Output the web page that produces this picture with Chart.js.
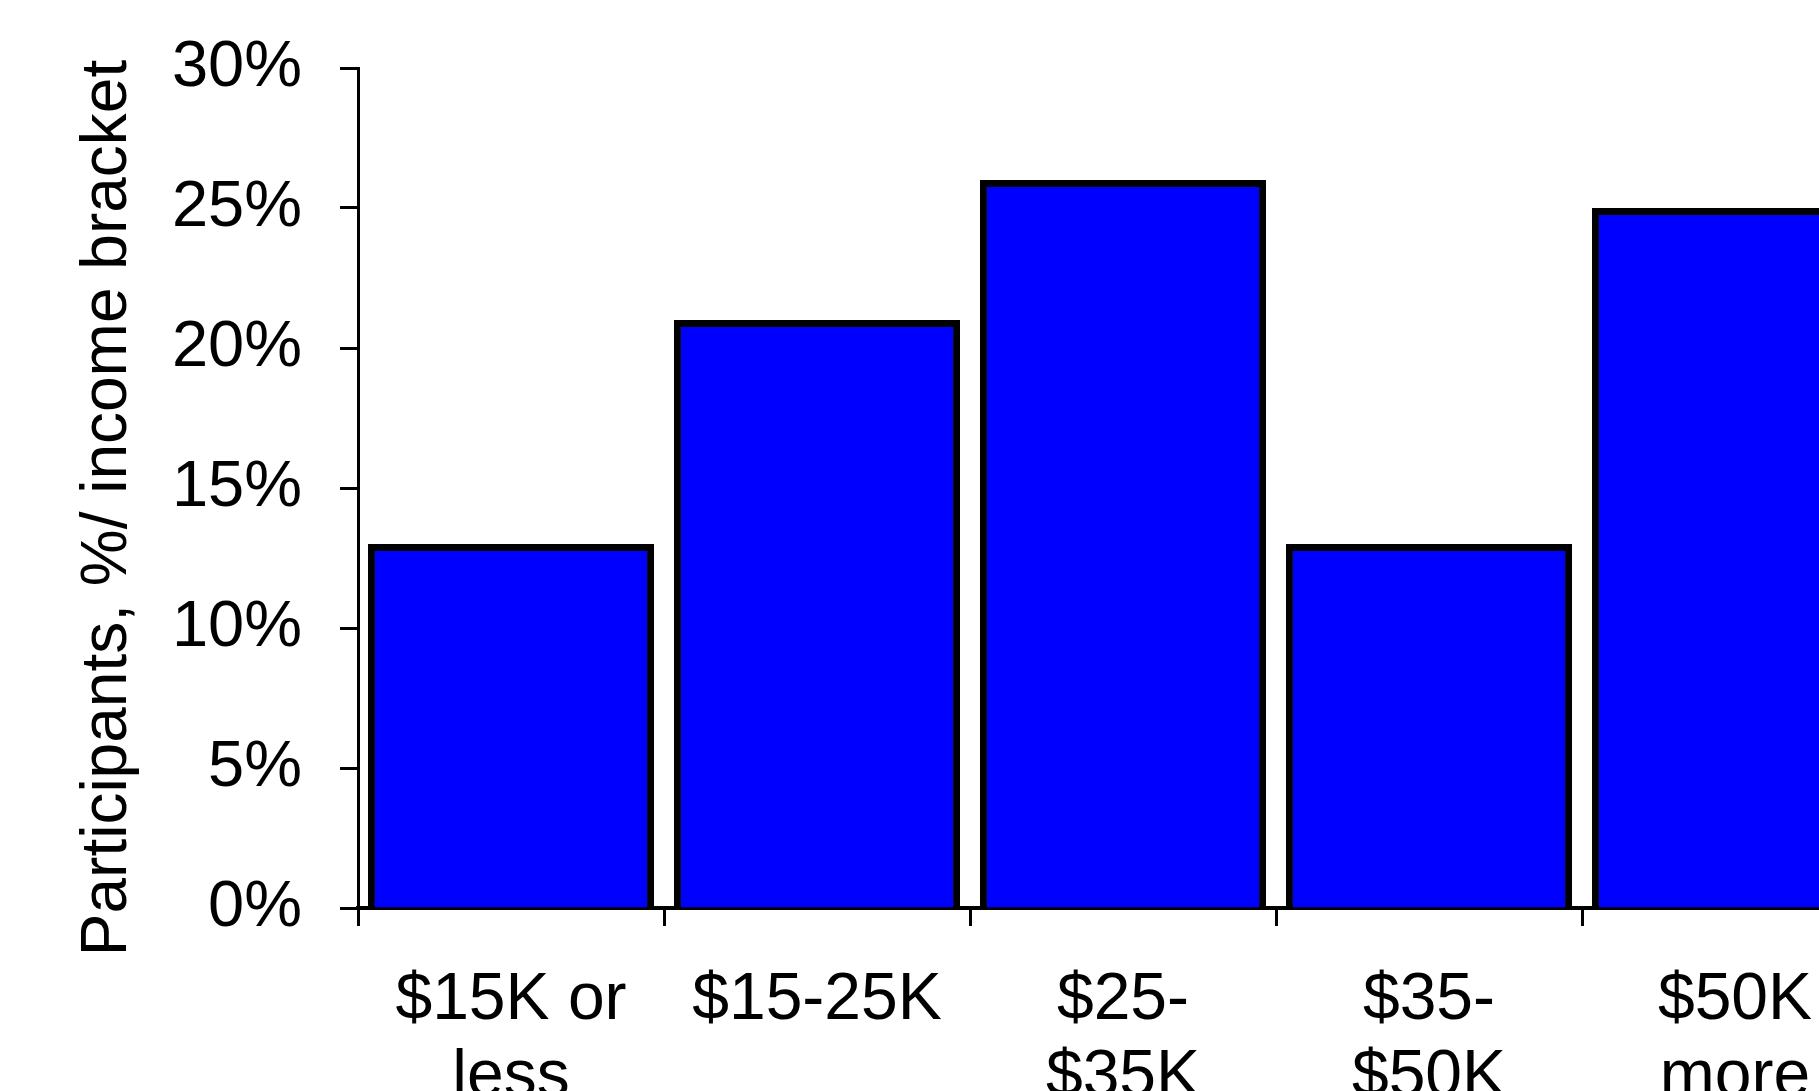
<!DOCTYPE html>
<html>
<head>
<meta charset="utf-8">
<title>Participants by income bracket</title>
<script src="https://cdn.jsdelivr.net/npm/chart.js@4/dist/chart.umd.min.js"></script>
<style>
  html, body { margin: 0; padding: 0; background: #fff; overflow: hidden; }
  #wrap { position: relative; width: 1900px; height: 1091px; }
</style>
</head>
<body>
<div id="wrap"><canvas id="myChart"></canvas></div>
<script>
// income brackets (multi-line labels) and share of participants in each
const incomeBrackets = [["$15K or", "less"], ["$15-25K"], ["$25-", "$35K"], ["$35-", "$50K"], ["$50K", "more"]];
const participantShare = [13, 21, 26, 13, 25];
const percentTicks = [0, 5, 10, 15, 20, 25, 30];
const yTitle = "Participants, %/ income bracket";

const FONT = '"Liberation Sans", Arial, Helvetica, sans-serif';

// rotated y axis title, drawn by hand so it can sit a bit below the centre
const axisTitle = {
    id: "axisTitle",
    afterDraw(chart) {
        const ctx = chart.ctx;
        const area = chart.chartArea;
        ctx.save();
        ctx.font = "64px " + FONT;
        ctx.fillStyle = "#000";
        ctx.textAlign = "center";
        ctx.textBaseline = "alphabetic";
        ctx.translate(area.left - 232, (area.top + area.bottom) / 2 + 20);
        ctx.rotate(-Math.PI / 2);
        ctx.fillText(yTitle, 0, 0);
        ctx.restore();
    }
};

const ctx = document.getElementById("myChart").getContext("2d");
const chart = new Chart(ctx, {
    type: "bar",
    data: {
        labels: incomeBrackets,
        datasets: [{
            data: participantShare,
            backgroundColor: "#0000ff",
            borderColor: "#000000",
            borderWidth: 7,
            borderSkipped: "start",
            barPercentage: 0.935,
            categoryPercentage: 1
        }]
    },
    options: {
        responsive: true,
        maintainAspectRatio: false,
        animation: false,
        layout: { padding: { top: 68, right: 12, bottom: 0, left: 0 } },
        plugins: {
            legend: { display: false },
            tooltip: { enabled: false }
        },
        scales: {
            x: {
                z: 1,
                grid: {
                    drawOnChartArea: false,
                    tickLength: 18,
                    tickWidth: 3,
                    tickColor: "#000",
                    offset: true
                },
                border: { display: true, color: "#000", width: 4 },
                ticks: {
                    color: "#000",
                    padding: 36,
                    maxRotation: 0,
                    autoSkip: false,
                    font: { family: FONT, size: 66, lineHeight: 1.17 }
                },
                afterFit(scale) { scale.height = 183; }
            },
            y: {
                min: percentTicks[0],
                max: percentTicks[percentTicks.length - 1],
                grid: {
                    drawOnChartArea: false,
                    tickLength: 18,
                    tickWidth: 3,
                    tickColor: "#000"
                },
                border: { display: true, color: "#000", width: 3 },
                ticks: {
                    stepSize: percentTicks[1] - percentTicks[0],
                    color: "#000",
                    padding: 38,
                    font: { family: FONT, size: 65, lineHeight: 0.8 },
                    callback: value => value + "%"
                },
                afterFit(scale) { scale.width = 358; }
            }
        }
    },
    plugins: [axisTitle]
});
</script>
</body>
</html>
